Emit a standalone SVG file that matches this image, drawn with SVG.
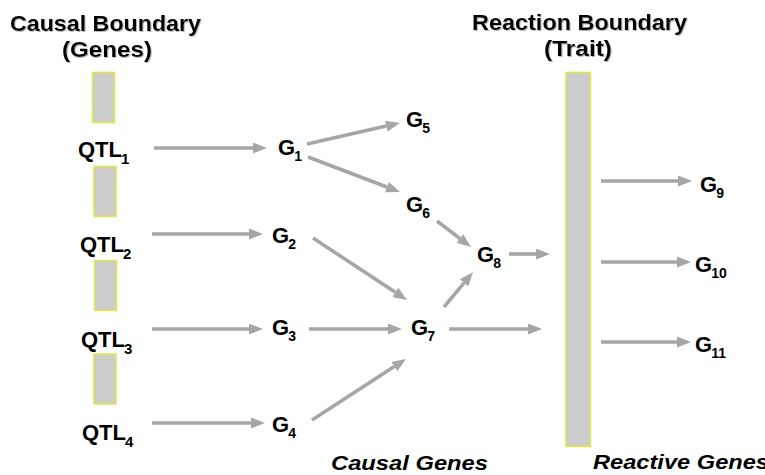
<svg xmlns="http://www.w3.org/2000/svg" width="765" height="475" viewBox="0 0 765 475">
<style>
text{font-family:"Liberation Sans",Arial,Helvetica,sans-serif;font-weight:bold;fill:#000}
.title{font-size:22px}
.lbl{font-size:22px}
.sub{font-size:14px}
.qsub{font-size:15px}
.ital{font-size:21px;font-style:italic}
.bar{fill:#cccccc;stroke:#e3e84a;stroke-width:1.6}
.arr{fill:none;stroke:#a6a6a6;stroke-width:3.6;marker-end:url(#ah)}
</style>
<defs>
<marker id="ah" markerUnits="userSpaceOnUse" markerWidth="15" markerHeight="12" refX="0" refY="5.5" orient="auto">
<path d="M0,0 L14,5.5 L0,11 z" fill="#a6a6a6"/>
</marker>
<filter id="sh" x="-5%" y="-20%" width="110%" height="140%">
<feDropShadow dx="1" dy="1" stdDeviation="0.6" flood-color="#888" flood-opacity="0.6"/>
</filter>
</defs>
<rect width="765" height="475" fill="#fff"/>

<g id="causal-boundary">
<text class="title" x="10" y="31" textLength="191" lengthAdjust="spacingAndGlyphs" filter="url(#sh)">Causal Boundary</text>
<text class="title" x="62" y="56.5" textLength="90" lengthAdjust="spacingAndGlyphs" filter="url(#sh)">(Genes)</text>
<rect class="bar" x="92.5" y="72.5" width="22" height="50"/>
<rect class="bar" x="94" y="166.5" width="22" height="50"/>
<rect class="bar" x="94.5" y="260.5" width="22" height="50"/>
<rect class="bar" x="94" y="354" width="22" height="50"/>
</g>

<g id="qtl1"><text class="lbl" x="78" y="157">QTL<tspan class="qsub" dx="-1" dy="7">1</tspan></text></g>
<g id="qtl2"><text class="lbl" x="80" y="251.5">QTL<tspan class="qsub" dx="-1" dy="7">2</tspan></text></g>
<g id="qtl3"><text class="lbl" x="81" y="346.5">QTL<tspan class="qsub" dx="-1" dy="7">3</tspan></text></g>
<g id="qtl4"><text class="lbl" x="82" y="440">QTL<tspan class="qsub" dx="-1" dy="7">4</tspan></text></g>

<g id="g1"><text class="lbl" x="278" y="155">G<tspan class="sub" dx="-1" dy="6">1</tspan></text></g>
<g id="g2"><text class="lbl" x="272" y="243">G<tspan class="sub" dx="-1" dy="6">2</tspan></text></g>
<g id="g3"><text class="lbl" x="272" y="335">G<tspan class="sub" dx="-1" dy="6">3</tspan></text></g>
<g id="g4"><text class="lbl" x="272" y="432">G<tspan class="sub" dx="-1" dy="6">4</tspan></text></g>
<g id="g5"><text class="lbl" x="406" y="127">G<tspan class="sub" dx="-1" dy="6">5</tspan></text></g>
<g id="g6"><text class="lbl" x="406" y="212">G<tspan class="sub" dx="-1" dy="6">6</tspan></text></g>
<g id="g7"><text class="lbl" x="411" y="335">G<tspan class="sub" dx="-1" dy="6">7</tspan></text></g>
<g id="g8"><text class="lbl" x="477" y="262">G<tspan class="sub" dx="-1" dy="6">8</tspan></text></g>

<g id="reaction-boundary">
<text class="title" x="472" y="30" textLength="215" lengthAdjust="spacingAndGlyphs" filter="url(#sh)">Reaction Boundary</text>
<text class="title" x="544" y="56" textLength="68" lengthAdjust="spacingAndGlyphs" filter="url(#sh)">(Trait)</text>
<rect class="bar" x="566" y="72.5" width="24.5" height="374"/>
</g>

<g id="g9"><text class="lbl" x="700" y="192">G<tspan class="sub" dx="-1" dy="6">9</tspan></text></g>
<g id="g10"><text class="lbl" x="695" y="272">G<tspan class="sub" dx="-1" dy="6">10</tspan></text></g>
<g id="g11"><text class="lbl" x="695" y="352">G<tspan class="sub" dx="-1" dy="6">11</tspan></text></g>

<g id="connectors">
<path class="arr" d="M154,148 L253,148"/>
<path class="arr" d="M152,234 L249,234"/>
<path class="arr" d="M152,329 L249,329"/>
<path class="arr" d="M152,423 L251,423"/>
<path class="arr" d="M307,144 L386.3,126.1"/>
<path class="arr" d="M308,157 L386.9,187"/>
<path class="arr" d="M437,221 L459.9,238.5"/>
<path class="arr" d="M313,238 L395.3,292.3"/>
<path class="arr" d="M309,329 L388,329"/>
<path class="arr" d="M312,420 L394.3,366.6"/>
<path class="arr" d="M444,307 L464.1,282.8"/>
<path class="arr" d="M509,254 L536,254"/>
<path class="arr" d="M449,329 L528,329"/>
<path class="arr" d="M601,181 L678,181"/>
<path class="arr" d="M601,262 L677,262"/>
<path class="arr" d="M601,342 L677,342"/>
</g>

<g id="labels">
<text class="ital" x="331" y="470" textLength="157" lengthAdjust="spacingAndGlyphs">Causal Genes</text>
<text class="ital" x="593" y="469" textLength="176" lengthAdjust="spacingAndGlyphs">Reactive Genes</text>
</g>
</svg>
